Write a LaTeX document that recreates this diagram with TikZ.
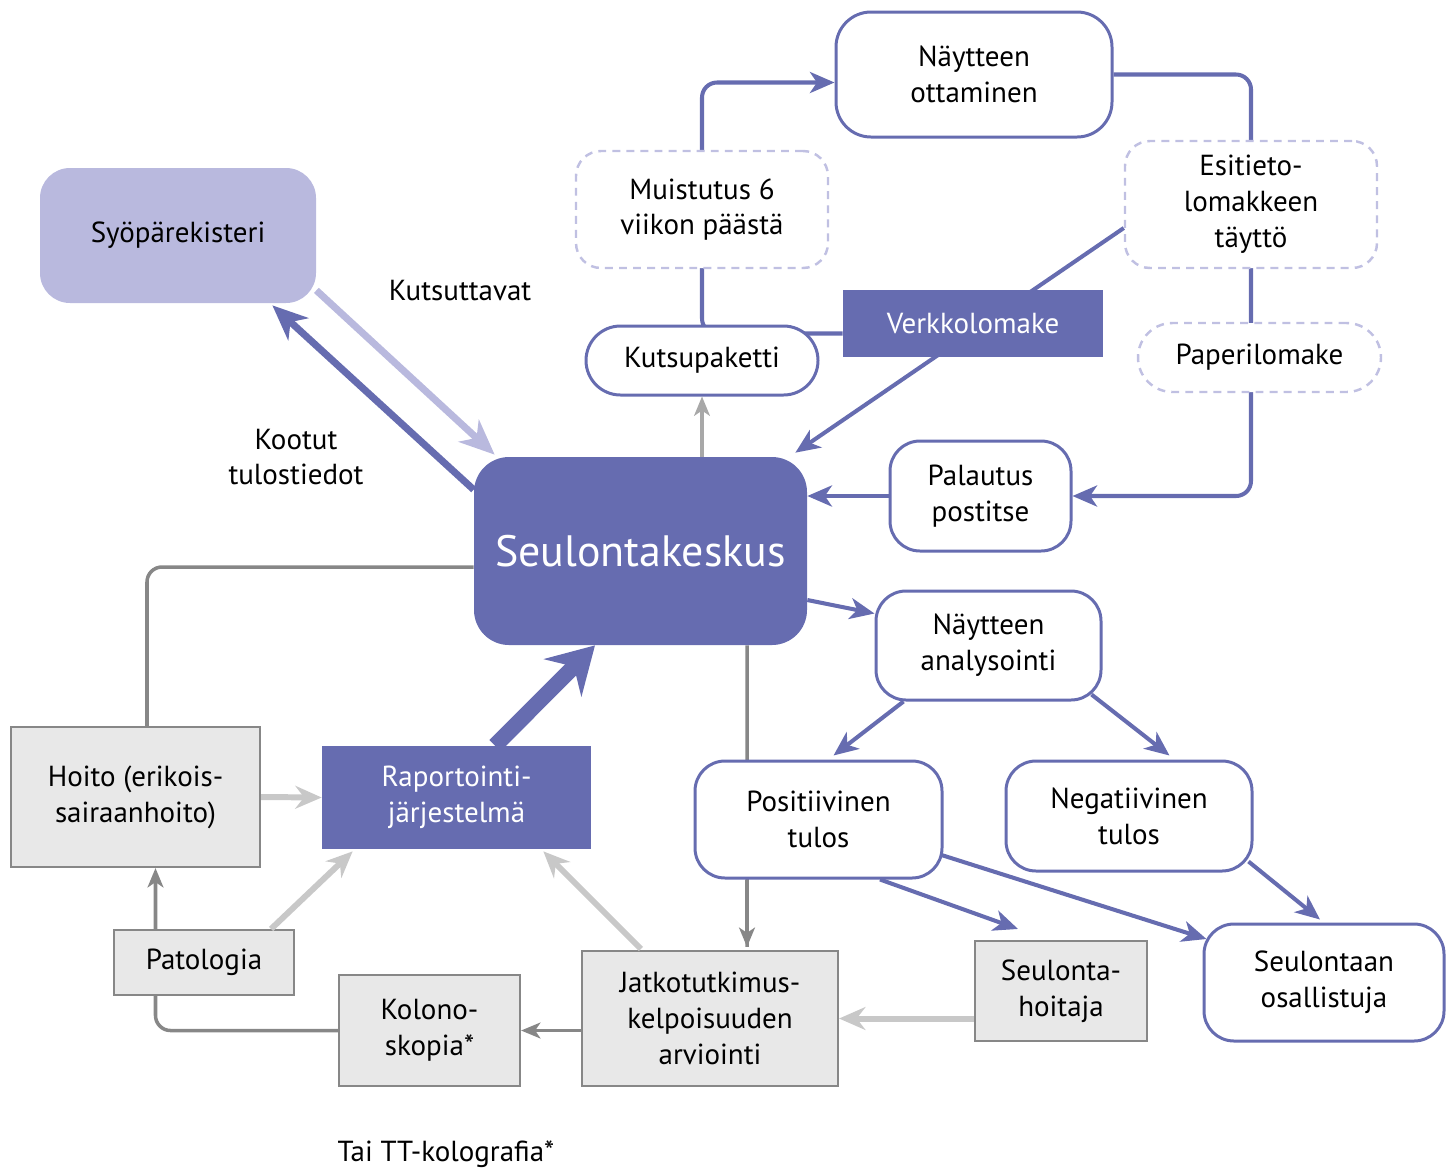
\documentclass[tikz,border=0pt]{standalone}
\usepackage{fontspec}
\setmainfont{PT Sans}
\usetikzlibrary{arrows.meta,positioning,calc,backgrounds}
\definecolor{seublue}{RGB}{102,108,176}
\definecolor{seulav}{RGB}{185,185,222}
\definecolor{seudash}{RGB}{192,192,226}
\definecolor{seugray}{RGB}{135,135,135}
\definecolor{seumid}{RGB}{168,168,168}
\definecolor{seulight}{RGB}{200,200,200}
\definecolor{seubox}{RGB}{232,232,232}
\begin{document}
\begin{tikzpicture}[x=0.02cm, y=-0.02cm, font=\fontsize{16.5}{20.4}\selectfont,
		sz/.style 2 args = {minimum width=#1*0.02cm, minimum height=#2*0.02cm},
		main/.style = {draw=seublue, line width=1.7pt, fill=white, rounded corners=0.6cm, align=center, inner sep=0pt},
		opt/.style = {draw=seudash, line width=1.4pt, dash pattern=on 4.5pt off 3.5pt, fill=white, rounded corners=0.5cm, align=center, inner sep=0pt},
		sys/.style = {fill=seublue, text=white, align=center, inner sep=0pt},
		care/.style = {draw=seugray, line width=1.2pt, fill=seubox, align=center, inner sep=0pt},
		flow/.style = {draw=seublue, line width=2.3pt, -{Stealth[length=14pt, width=12pt, inset=4pt]}},
		link/.style = {draw=seublue, line width=2.3pt, rounded corners=0.3cm},
		gflow/.style = {draw=seugray, line width=2pt, -{Stealth[length=11pt, width=9pt, inset=3pt]}},
		lflow/.style = {draw=seulight, line width=3.4pt, -{Stealth[length=15pt, width=13pt, inset=5pt]}}
	]
		\useasboundingbox (0,0) rectangle (1454,1171);
		\node[fill=seulav, rounded corners=0.6cm, inner sep=0pt, sz={276}{135}] (syo) at (178,235.5) {Syöpärekisteri};
		\node[sys, rounded corners=0.7cm, sz={333}{188}, font=\fontsize{25}{30}\selectfont] (seul) at (640.5,551) {Seulontakeskus};
		\node[main, rounded corners=0.7cm, sz={276}{125}] (nayt) at (974,74.5) {Näytteen\\ottaminen};
		\node[opt, sz={252}{117}] (muis) at (702,209.5) {Muistutus 6\\viikon päästä};
		\node[opt, sz={252}{127}] (esit) at (1251,204.5) {Esitieto-\\lomakkeen\\täyttö};
		\node[main, rounded corners=0.69cm, sz={232}{69}] (kuts) at (702,360.5) {Kutsupaketti};
		\node[sys, sz={260}{67}] (verk) at (973,323.5) {Verkkolomake};
		\node[opt, rounded corners=0.69cm, sz={243}{69}] (pape) at (1259.5,357.5) {Paperilomake};
		\node[main, sz={181}{110}] (pala) at (980.5,496) {Palautus\\postitse};
		\node[main, sz={225}{109}] (anal) at (988.5,645.5) {Näytteen\\analysointi};
		\node[main, sz={247}{117}] (posi) at (818.5,819.5) {Positiivinen\\tulos};
		\node[main, sz={246}{110}] (nega) at (1129,816) {Negatiivinen\\tulos};
		\node[main, sz={240}{117}] (osal) at (1324,982.5) {Seulontaan\\osallistuja};
		\node[care, sz={172}{100}] (hoit) at (1061,991) {Seulonta-\\hoitaja};
		\node[care, sz={256}{135}] (jatk) at (710,1018.5) {Jatkotutkimus-\\kelpoisuuden\\arviointi};
		\node[care, sz={181}{111}] (kolo) at (429.5,1030.5) {Kolono-\\skopia*};
		\node[care, sz={180}{65}] (pato) at (204,962.5) {Patologia};
		\node[care, sz={249}{140}] (hoito) at (135.5,797) {Hoito (erikois-\\sairaanhoito)};
		\node[sys, sz={269}{103}] (rapo) at (456.5,797.5) {Raportointi-\\järjestelmä};
		\node (kutsuttavat) at (460,291) {Kutsuttavat};
		\node[align=center] (kootut) at (296,457) {Kootut\\tulostiedot};
		\node (tai) at (446,1154) {Tai TT-kolografia*};
		\begin{scope}[on background layer]
			\draw[link, -{Stealth[length=14pt, width=12pt, inset=4pt]}] ($(verk.west)+(0,10)$) -| (muis.north) |- ($(nayt.west)+(0,8)$);
			\draw[link, -{Stealth[length=14pt, width=12pt, inset=4pt]}] (nayt.east) -| (esit.north) |- (pala.east);
			\draw[flow] ($(esit.west)+(0,23.5)$) -- ($(seul.north east)+(-12,-4)$);
			\draw[gflow, -] ($(seul.south)+(106.5,0)$) -- ($(jatk.north)+(37,-3)$);
			\draw[gflow] ($(posi.south)+(-71.5,0)$) -- ($(jatk.north)+(37,-3)$);
			\draw[gflow, rounded corners=0.3cm] (kolo.west) -| ($(hoito.south)+(20,0)$);
		\end{scope}
		\draw[line width=4pt, draw=seulav, -{Stealth[length=20pt, width=17pt, inset=6pt]}] ($(syo.south east)+(0,-13)$) -- ($(seul.north west)+(21,-2)$);
		\draw[line width=4pt, draw=seublue, -{Stealth[length=20pt, width=17pt, inset=6pt]}] ($(seul.north west)+(0,33)$) -- ($(syo.south east)+(-44,2)$);
		\draw[draw=seumid, line width=1.8pt, -{Stealth[length=11pt, width=9pt, inset=3pt]}] (kuts.south |- seul.north) -- (kuts.south);
		\draw[flow] (pala.west) -- (pala.west -| seul.east);
		\draw[flow] ($(seul.east)+(0,49)$) -- ($(anal.west)+(0,-32)$);
		\draw[flow] ($(anal.south west)+(29,0)$) -- ($(posi.north west)+(140,-4)$);
		\draw[flow] ($(anal.south east)+(-11,-7)$) -- ($(nega.north east)+(-84,-4)$);
		\draw[flow] ($(nega.south east)+(-5,-11)$) -- ($(osal.north)+(-4,-3)$);
		\draw[flow] ($(posi.east)+(-2,35.5)$) -- ($(osal.west)+(4,-43.5)$);
		\draw[flow] ($(posi.south)+(61.5,0)$) -- ($(hoit.north)+(-43,-11)$);
		\draw[lflow] (hoit.west |- jatk.east) -- (jatk.east);
		\draw[gflow] (jatk.west |- kolo.east) -- (kolo.east);
		\draw[lflow] ($(pato.north east)+(-24,0)$) -- ($(rapo.south west)+(31,2)$);
		\draw[lflow] ($(jatk.north west)+(60,-1)$) -- ($(rapo.south east)+(-48,2)$);
		\draw[lflow] (hoito.east) -- (rapo.west);
		\draw[draw=seublue, line width=9pt, -{Stealth[length=26pt, width=30pt, inset=9pt]}] ($(rapo.north)+(38.5,0)$) -- ($(seul.south)+(-45.5,0)$);
		\draw[gflow, -, rounded corners=0.3cm] ($(hoito.north)+(11.5,0)$) |- ($(seul.west)+(0,16)$);
	\end{tikzpicture}
\end{document}
